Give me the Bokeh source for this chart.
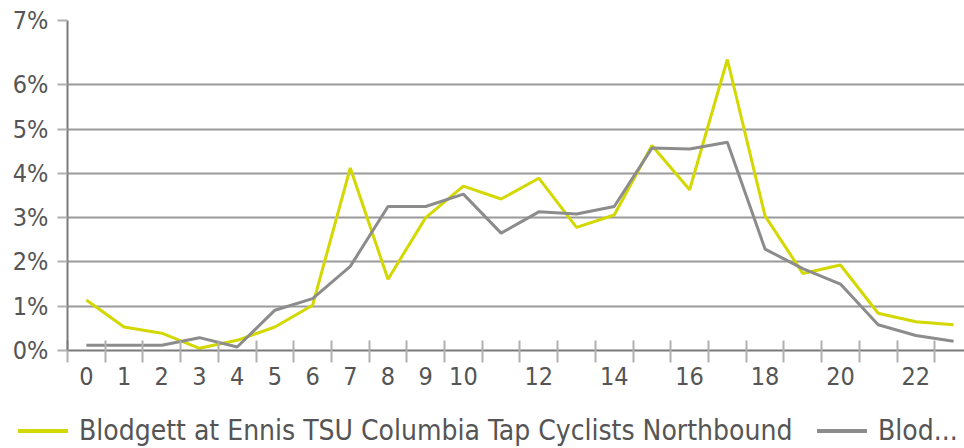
from bokeh.plotting import figure
from bokeh.models import (ColumnDataSource, Range1d, FixedTicker, Div)
from bokeh.layouts import column
from bokeh.embed import file_html
from bokeh.resources import INLINE

hours = list(range(24))
northbound = [1.14, 0.53, 0.39, 0.05, 0.23, 0.53, 1.02, 4.12, 1.61, 3.00, 3.71, 3.42,
              3.89, 2.78, 3.06, 4.63, 3.63, 6.57, 3.04, 1.74, 1.93, 0.84, 0.65, 0.58]
second = [0.12, 0.12, 0.12, 0.29, 0.08, 0.91, 1.17, 1.90, 3.25, 3.25, 3.53, 2.65,
          3.13, 3.08, 3.25, 4.57, 4.55, 4.70, 2.29, 1.85, 1.50, 0.58, 0.34, 0.21]
x_tick_labels = [0, 1, 2, 3, 4, 5, 6, 7, 8, 9, 10, 12, 14, 16, 18, 20, 22]
y_ticks = [0, 1, 2, 3, 4, 5, 6, 7.45]
y_tick_labels = ["0%", "1%", "2%", "3%", "4%", "5%", "6%", "7%"]
series_names = ["Blodgett at Ennis TSU Columbia Tap Cyclists Northbound", "Blod..."]
series_colors = ["#d2d800", "#8c8c8c"]

FONT = "DejaVu Sans Condensed, DejaVu Sans"
TXT = "#555555"

src = ColumnDataSource(dict(h=hours, a=northbound, b=second))

p = figure(width=964, height=400, output_backend="svg", toolbar_location=None,
           x_range=Range1d(-0.5, 23.29), y_range=Range1d(0, 7.45),
           min_border_left=67, min_border_right=0, min_border_top=20,
           min_border_bottom=50)
p.outline_line_color = None
p.background_fill_color = "white"
p.border_fill_color = "white"

# grid
p.xgrid.grid_line_color = None
p.ygrid.grid_line_color = "#9a9a9a"
p.ygrid.grid_line_width = 2

# y axis
p.yaxis.ticker = FixedTicker(ticks=y_ticks)
p.yaxis.major_label_overrides = {t: l for t, l in zip(y_ticks, y_tick_labels)}
p.yaxis.axis_line_color = "#7a7a7a"
p.yaxis.axis_line_width = 2
p.yaxis.major_tick_line_color = "#b0b0b0"
p.yaxis.major_tick_line_width = 2
p.yaxis.major_tick_in = 0
p.yaxis.major_tick_out = 10
p.yaxis.minor_tick_line_color = None
p.yaxis.major_label_text_font = FONT
p.yaxis.major_label_text_font_size = "25px"
p.yaxis.major_label_text_color = TXT
p.yaxis.major_label_standoff = 9

# x axis
p.xaxis.ticker = FixedTicker(ticks=x_tick_labels,
                             minor_ticks=[h - 0.5 for h in hours])
p.xaxis.axis_line_color = "#7a7a7a"
p.xaxis.axis_line_width = 2
p.xaxis.major_tick_line_color = None
p.xaxis.minor_tick_line_color = "#b0b0b0"
p.xaxis.minor_tick_line_width = 2
p.xaxis.minor_tick_in = 10
p.xaxis.minor_tick_out = 12
p.xaxis.major_tick_out = 12
p.xaxis.major_tick_in = 0
p.xaxis.major_label_text_font = FONT
p.xaxis.major_label_text_font_size = "25px"
p.xaxis.major_label_text_color = TXT
p.xaxis.major_label_standoff = 4

p.line("h", "a", source=src, line_color=series_colors[0], line_width=3)
p.line("h", "b", source=src, line_color=series_colors[1], line_width=3)

# legend strip below the chart
def item(left, color, label):
    return (f'<span style="position:absolute;left:{left}px;top:29px;width:50px;'
            f'height:4px;background:{color};"></span>'
            f'<span style="position:absolute;left:{left + 61}px;top:15px;'
            f'line-height:32px;white-space:nowrap;">{label}</span>')

legend_html = (
    '<div style="position:relative;width:964px;height:48px;'
    "font-family:'DejaVu Sans Condensed','DejaVu Sans',sans-serif;"
    f'font-size:28px;color:{TXT};">'
    + item(18, series_colors[0], series_names[0])
    + item(817, series_colors[1], series_names[1])
    + '</div>'
)
lg = Div(text=legend_html, width=964, height=48, margin=0)

open("out.html", "w").write(file_html(column(p, lg, spacing=0), INLINE))
